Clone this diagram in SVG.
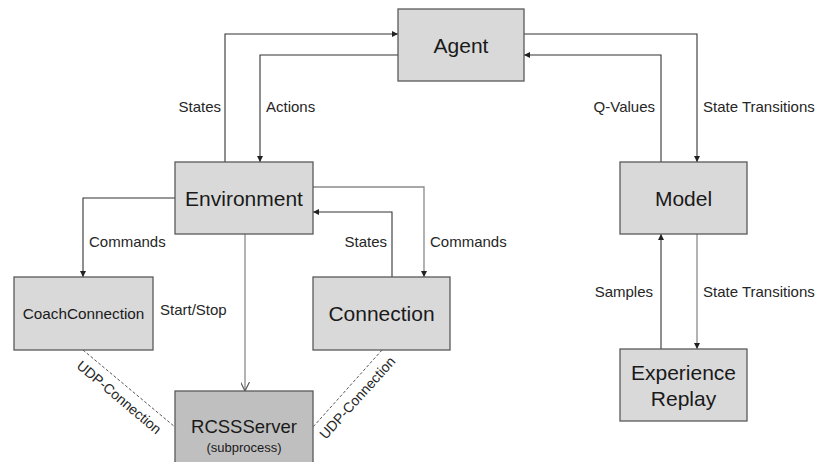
<svg xmlns="http://www.w3.org/2000/svg" width="821" height="462" viewBox="0 0 821 462">
<style>
.box{fill:#d9d9d9;stroke:#5a5a5a;stroke-width:1.3}
.dark{fill:#bfbfbf;stroke:#5a5a5a;stroke-width:1.3}
.big{font-family:"Liberation Sans",Arial,sans-serif;font-size:21px;fill:#1a1a1a;text-anchor:middle}
.lbl{font-family:"Liberation Sans",Arial,sans-serif;font-size:15px;fill:#262626}
.udp{font-family:"Liberation Sans",Arial,sans-serif;font-size:14px;fill:#262626;text-anchor:middle}
.ln{fill:none;stroke:#333;stroke-width:1.1}
.gl{fill:none;stroke:#8a8a8a;stroke-width:1.3}
.ds{fill:none;stroke:#555;stroke-width:1;stroke-dasharray:3 2}
</style>
<defs>
<marker id="ah" viewBox="0 0 10 10" refX="10" refY="5" markerWidth="6" markerHeight="6" markerUnits="userSpaceOnUse" orient="auto"><path d="M0,0 L10,5 L0,10 z" fill="#222"/></marker>
<marker id="av" viewBox="0 0 10 10" refX="10" refY="5" markerWidth="9" markerHeight="9" markerUnits="userSpaceOnUse" orient="auto"><path d="M0,0 L10,5 L0,10" fill="none" stroke="#555" stroke-width="1.3"/></marker>
</defs>
<rect width="821" height="462" fill="#fff"/>
<g id="connectors">
<path class="ln" d="M225,162 V34 H398" marker-end="url(#ah)"/>
<path class="ln" d="M398,55 H260 V162" marker-end="url(#ah)"/>
<path class="ln" d="M524,34 H697 V162" marker-end="url(#ah)"/>
<path class="ln" d="M661,162 V55 H524" marker-end="url(#ah)"/>
<path class="ln" d="M661,349 V234" marker-end="url(#ah)"/>
<path class="gl" d="M697,234 V349" marker-end="url(#ah)"/>
<path class="ln" d="M175,198 H83 V277" marker-end="url(#ah)"/>
<path class="gl" d="M313,187 H424 V277" marker-end="url(#ah)"/>
<path class="ln" d="M392,277 V212 H313" marker-end="url(#ah)"/>
<path class="gl" d="M245,234 V391" marker-end="url(#av)"/>
<path class="ds" d="M83,350 L175,427"/>
<path class="ds" d="M382,350 L313,427"/>
<text class="lbl" x="221" y="112" text-anchor="end">States</text>
<text class="lbl" x="266" y="112">Actions</text>
<text class="lbl" x="655" y="112" text-anchor="end">Q-Values</text>
<text class="lbl" x="703" y="112">State Transitions</text>
<text class="lbl" x="653" y="297" text-anchor="end">Samples</text>
<text class="lbl" x="703" y="297">State Transitions</text>
<text class="lbl" x="89" y="247">Commands</text>
<text class="lbl" x="387" y="247" text-anchor="end">States</text>
<text class="lbl" x="430" y="247">Commands</text>
<text class="lbl" x="160" y="315">Start/Stop</text>
<text class="udp" x="0" y="0" transform="translate(116,401) rotate(40)">UDP-Connection</text>
<text class="udp" x="0" y="0" transform="translate(361,401) rotate(-48)">UDP-Connection</text>
</g>
<g id="agent"><rect class="box" x="398" y="9" width="126" height="72"/><text class="big" x="461" y="52.5">Agent</text></g>
<g id="environment"><rect class="box" x="175" y="162" width="138" height="72"/><text class="big" x="244" y="206">Environment</text></g>
<g id="model"><rect class="box" x="620" y="162" width="127" height="72"/><text class="big" x="683.5" y="206">Model</text></g>
<g id="experience-replay"><rect class="box" x="620" y="349" width="127" height="72"/><text class="big" x="683.5" y="380">Experience</text><text class="big" x="683.5" y="406">Replay</text></g>
<g id="coach-connection"><rect class="box" x="14" y="277" width="139" height="73"/><text class="big" x="83.5" y="319" style="font-size:15.3px">CoachConnection</text></g>
<g id="connection"><rect class="box" x="313" y="277" width="137" height="73"/><text class="big" x="381.5" y="321">Connection</text></g>
<g id="rcssserver"><rect class="dark" x="175" y="391" width="138" height="80"/><text class="big" x="244" y="433" style="font-size:18.5px">RCSSServer</text><text class="big" x="244" y="452" style="font-size:13px">(subprocess)</text></g>
</svg>
